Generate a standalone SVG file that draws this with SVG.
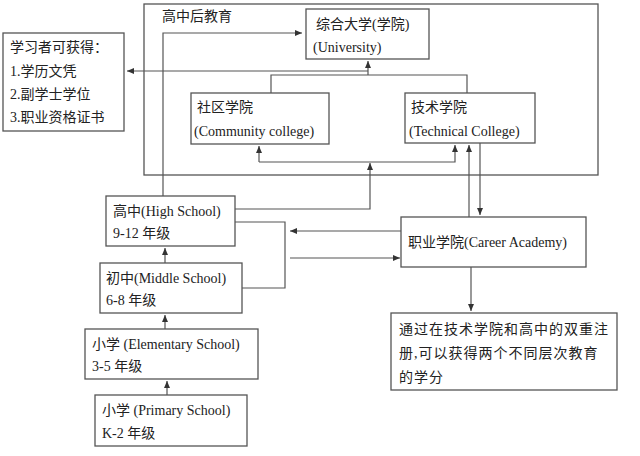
<svg xmlns="http://www.w3.org/2000/svg" width="640" height="456" viewBox="0 0 640 456">
<defs>
<style>
text{font-family:"Liberation Serif","Noto Sans CJK SC",serif;font-size:14px;fill:#222}
.n{letter-spacing:1px}
.b{fill:#fff;stroke:#555;stroke-width:1.3}
.c{fill:none;stroke:#555;stroke-width:1.2}
.a{marker-end:url(#ar)}
</style>
<marker id="ar" markerWidth="8" markerHeight="8" refX="7" refY="4" orient="auto" markerUnits="userSpaceOnUse">
<path d="M0,1 L7,4 L0,7 Z" fill="#333"/>
</marker>
</defs>
<rect width="640" height="456" fill="#fff"/>
<g id="postsecondary"><rect class="b" x="144" y="4" width="454" height="171" fill="none"/><text x="162" y="21">高中后教育</text></g>
<g id="connectors">
<path class="c a" d="M163,196 V33 H302"/>
<path class="c a" d="M368,71 H127"/>
<path class="c a" d="M271,93 V75 H467 V93 M368,75 V61"/>
<path class="c a" d="M259,162 V146"/>
<path class="c a" d="M259,162 H455 V145"/>
<path class="c a" d="M235,209 H370 V163"/>
<path class="c a" d="M469,217 V145"/>
<path class="c a" d="M480,143 V215"/>
<path class="c" d="M235,222 H285 V288 H242"/>
<path class="c a" d="M402,231 H290"/>
<path class="c a" d="M290,258 H400"/>
<path class="c a" d="M471,267 V311"/>
<path class="c a" d="M165,263 V248"/>
<path class="c a" d="M165,329 V315"/>
<path class="c a" d="M167,395 V381"/>
</g>
<g id="learner"><rect class="b" x="3" y="33" width="121" height="98"/>
<text x="10" y="52">学习者可获得：</text><text x="10" y="76">1.学历文凭</text><text x="10" y="99">2.副学士学位</text><text x="10" y="122">3.职业资格证书</text></g>
<g id="university"><rect class="b" x="306" y="9" width="123" height="50"/><text x="316" y="29">综合大学(学院)</text><text x="313" y="52">(University)</text></g>
<g id="community"><rect class="b" x="191" y="93" width="138" height="51"/><text x="197" y="112">社区学院</text><text x="194" y="136">(Community college)</text></g>
<g id="technical"><rect class="b" x="405" y="93" width="130" height="50"/><text x="411" y="112">技术学院</text><text x="409" y="136">(Technical College)</text></g>
<g id="highschool"><rect class="b" x="106" y="196" width="129" height="50"/><text x="113" y="216">高中(High School)</text><text x="113" y="238">9-12 年级</text></g>
<g id="middle"><rect class="b" x="100" y="263" width="142" height="50"/><text x="106" y="283">初中(Middle School)</text><text x="106" y="305">6-8 年级</text></g>
<g id="elementary"><rect class="b" x="85" y="329" width="173" height="50"/><text x="92" y="349">小学 (Elementary School)</text><text x="92" y="371">3-5 年级</text></g>
<g id="primary"><rect class="b" x="95" y="395" width="152" height="51"/><text x="102" y="415">小学 (Primary School)</text><text x="102" y="438">K-2 年级</text></g>
<g id="career"><rect class="b" x="401" y="217" width="185" height="50"/><text x="408" y="247">职业学院(Career Academy)</text></g>
<g id="note"><rect class="b" x="391" y="313" width="226" height="77"/>
<text class="n" x="399" y="334">通过在技术学院和高中的双重注</text><text class="n" x="399" y="358">册,可以获得两个不同层次教育</text><text class="n" x="399" y="382">的学分</text></g>
</svg>
